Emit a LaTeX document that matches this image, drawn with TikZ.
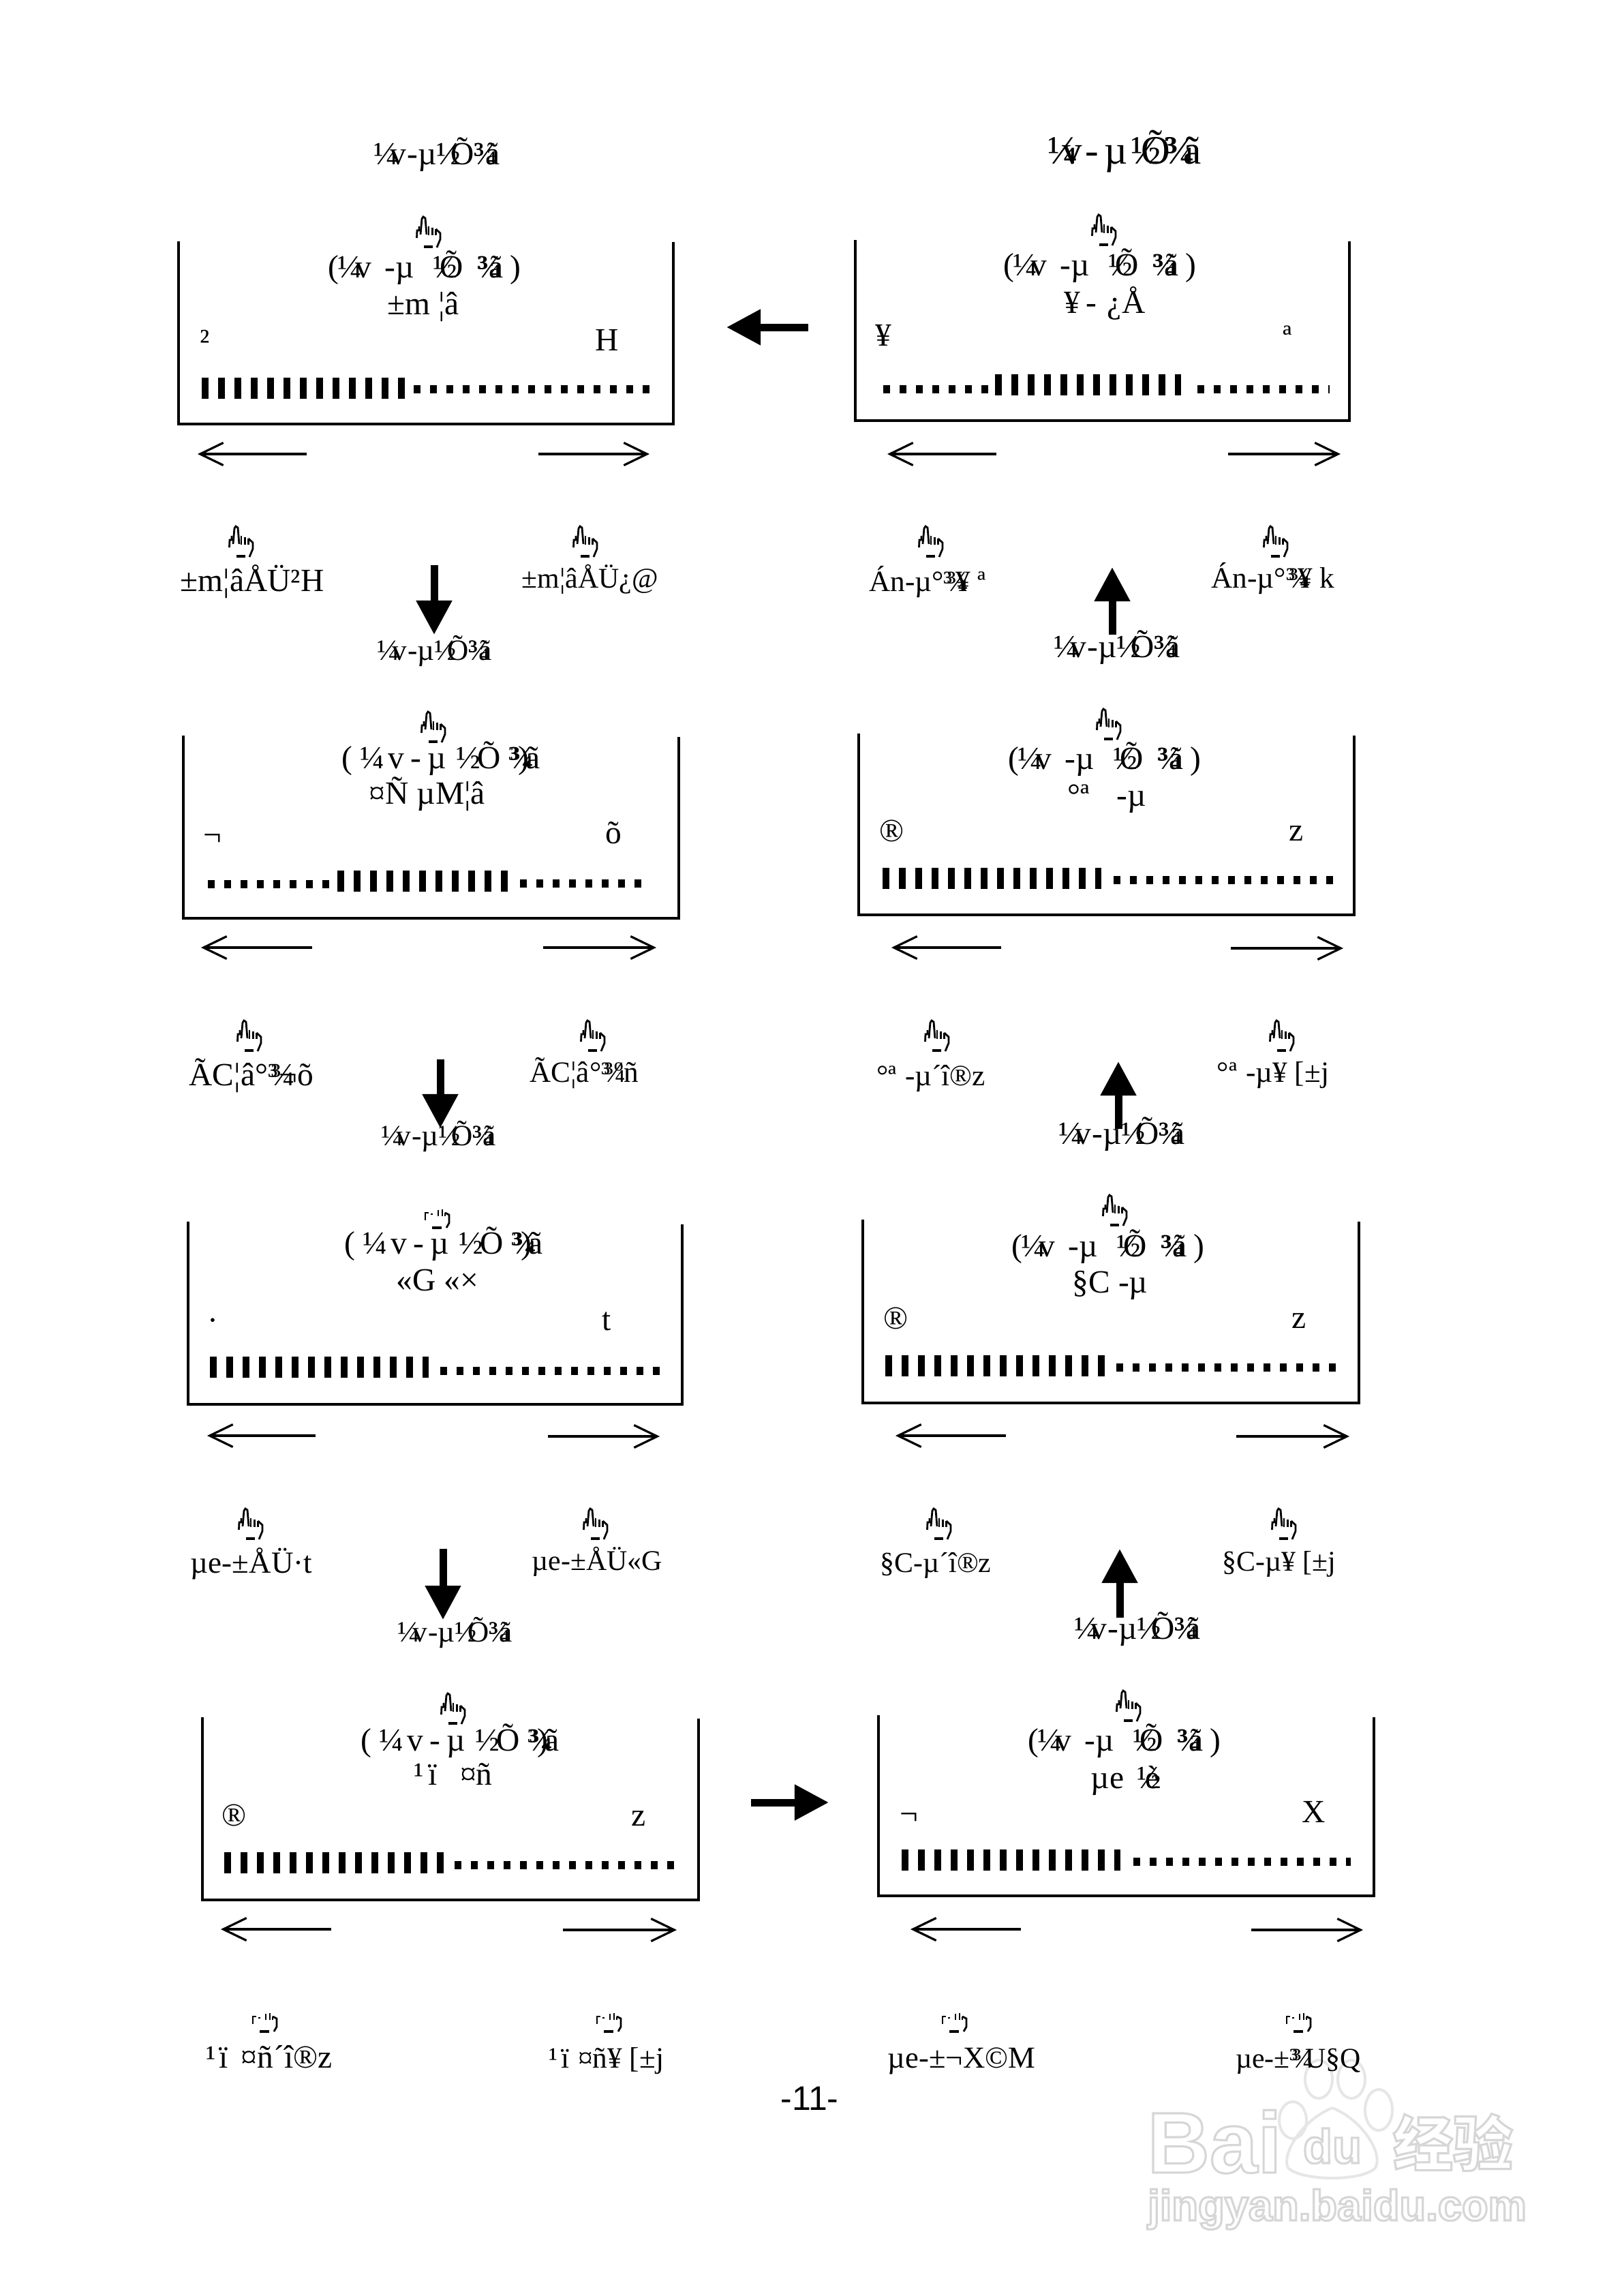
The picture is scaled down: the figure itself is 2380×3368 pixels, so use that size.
\documentclass[tikz,border=0pt]{standalone}
\usepackage{fontspec}
\setmainfont{Liberation Serif}
\newfontfamily\pagesans{Liberation Sans}
\newfontfamily\markcjk{Noto Sans CJK SC}
\usetikzlibrary{arrows.meta}
\definecolor{Wash}{HTML}{E6E6E6}
% the garbled heading, in its four settings
\newcommand{\ttlplain}{¼\kern-.26em v\kern.04em -µ½\kern-.32em Õ³\kern-.3em ¾\kern-.4em ã}
\newcommand{\ttlbig}{¼\kern-.4em v\kern.08em -\kern.15em µ\kern.08em ½\kern-.5em Õ\kern-.14em ³\kern-.28em ¾\kern-.3em ã}
\newcommand{\ttlspread}{(\kern-.05em ¼\kern-.2em v\hspace{.4em}-µ\hspace{.6em}½\kern-.55em Õ\hspace{.45em}³\kern-.3em ¾\kern-.4em ã\hspace{.2em})}
\newcommand{\ttlgap}{( ¼\kern.1em v\kern.2em -\kern.2em µ\kern.3em ½\kern-.1em Õ ³\kern-.25em ¾\kern-.5em )\kern-.1em ã}
% hollow letters for the watermark
\newcommand{\hollow}[1]{\special{pdf:code 1 Tr 0.9 w 0.84 G}#1\special{pdf:code 0 Tr 1 w 0 G}}
\begin{document}
\begin{tikzpicture}[x=0.01cm,y=-0.01cm,
  lab/.style={anchor=base, inner sep=0pt, outer sep=0pt, font=\fontsize{13.5}{16}\selectfont},
  sublab/.style={lab, font=\fontsize{12.3}{15}\selectfont},
  tightlab/.style={lab, font=\fontsize{11.9}{14}\selectfont},
  biglab/.style={lab, font=\fontsize{16.8}{20}\selectfont},
  numlab/.style={anchor=base, inner sep=0pt, font=\pagesans\fontsize{14.2}{17}\selectfont},
  marklab/.style={anchor=base, inner sep=0pt},
  wall/.style={line width=.032cm, line cap=rect},
  tallbar/.style={line width=.31cm, dash pattern=on .095cm off .145cm},
  smallbar/.style={line width=.12cm, dash pattern=on .095cm off .145cm},
  wing/.style={line width=.032cm, -{Straight Barb[length=.34cm,width=.33cm]}},
  blockarr/.style={line width=.11cm, -{Triangle[length=.5cm,width=.5cm]}},
  handup/.pic={
    \draw[line width=.028cm] (1.5,31) -- (2,20) -- (5,20) -- (5,14);
    \draw[line width=.028cm] (7,26) -- (9,3) -- (11,0) -- (14,2) -- (16,26);
    \draw[line width=.028cm] (19,14) -- (19,27) (24.5,16) -- (24.5,27) (29.5,18) -- (29.5,27);
    \draw[line width=.028cm] (29.5,18) -- (36,24) -- (36,33) -- (31,45);
    \draw[line width=.045cm] (12,44) -- (24.5,44);
  },
  handcut/.pic={
    \draw[line width=.028cm] (1,16) -- (1,5) -- (6,5) (10.5,6) -- (10.5,8);
    \draw[line width=.028cm] (20,1) -- (20,10) (26,0) -- (26,10) (30,5) -- (30,10);
    \draw[line width=.028cm] (30,5) -- (36,8) -- (36,20) -- (32,27);
    \draw[line width=.045cm] (11,27) -- (25,27);
  }
]
\useasboundingbox (0,0) rectangle (2380,3368);

% watermark
\node[marklab, font=\pagesans\bfseries\fontsize{36}{40}\selectfont] (mbai) at (1782,3187) {\hollow{Bai}};
\node[marklab, font=\pagesans\bfseries\fontsize{20}{24}\selectfont] (mdu) at (1955,3173) {\hollow{du}};
\node[marklab, font=\markcjk\bfseries\fontsize{25}{30}\selectfont] (mjy) at (2132,3177) {\hollow{经验}};
\node[marklab, font=\pagesans\bfseries\fontsize{18}{22}\selectfont] (murl) at (1962,3257) {\hollow{jingyan.baidu.com}};
\draw[Wash, line width=.04cm] (1897,3110) circle [x radius=20, y radius=27];
\draw[Wash, line width=.04cm] (1935,3050) circle [x radius=20, y radius=28];
\draw[Wash, line width=.04cm] (1983,3050) circle [x radius=20, y radius=28];
\draw[Wash, line width=.04cm] (2023,3095) circle [x radius=20, y radius=30];
\draw[Wash, line width=.04cm] (1955,3092) .. controls (1910,3110) and (1880,3160) .. (1890,3180) .. controls (1910,3200) and (2000,3200) .. (2018,3180) .. controls (2030,3160) and (2000,3110) .. (1955,3092);

% top left
\node[lab] (t1) at (641,241) {\ttlplain};
\pic at (610,318) {handup};
\node[lab] (t1a) at (623,407) {\ttlspread};
\node[lab] (t1b) at (621,461) {±m ¦â};
\node[lab] (t1c) at (301,515) {²};
\node[lab] (t1d) at (891,514) {H};
\draw[wall] (262,356) -- (262,622) -- (988,622) -- (988,357);
\draw[tallbar] (296,569) -- (594,569);
\draw[smallbar] (607,571) -- (954,571);
\coordinate (l1a) at (450,666); \coordinate (l1b) at (290,666);
\coordinate (r1a) at (790,666); \coordinate (r1b) at (953,666);
\draw[wing] (l1a) -- (l1b);
\draw[wing] (r1a) -- (r1b);

% top right
\node[biglab] (t2) at (1650,240) {\ttlbig};
\pic at (1601,315) {handup};
\node[lab] (t2a) at (1614,404) {\ttlspread};
\node[lab] (t2b) at (1621,459) {¥\,-\,\,¿Å};
\node[lab] (t2c) at (1296,507) {¥};
\node[lab] (t2d) at (1889,509) {ª};
\draw[wall] (1255,354) -- (1255,617) -- (1980,617) -- (1980,356);
\draw[smallbar] (1296,571) -- (1452,571);
\draw[tallbar] (1460,564) -- (1733,564);
\draw[smallbar] (1757,571) -- (1951,571);
\coordinate (l2a) at (1462,666); \coordinate (l2b) at (1302,666);
\coordinate (r2a) at (1802,666); \coordinate (r2b) at (1967,666);
\draw[wing] (l2a) -- (l2b);
\draw[wing] (r2a) -- (r2b);

\coordinate (ba) at (1186,480); \coordinate (bb) at (1066,480);
\draw[blockarr] (ba) -- (bb);

% second row left
\pic at (335,772) {handup};
\node[lab] (u3a) at (370,867) {±m¦âÅÜ²H};
\pic at (840,772) {handup};
\node[tightlab] (u3b) at (866,862) {±m¦âÅÜ¿@};
\coordinate (d1a) at (637,829); \coordinate (d1b) at (637,931);
\draw[blockarr] (d1a) -- (d1b);
\node[sublab] (t3) at (638,968) {\ttlplain};
\pic at (617,1044) {handup};
\node[lab] (t3a) at (647,1127) {\ttlgap};
\node[lab] (t3b) at (627,1179) {¤Ñ µM¦â};
\node[lab] (t3c) at (312,1240) {¬};
\node[lab] (t3d) at (900,1237) {õ};
\draw[wall] (269,1081) -- (269,1347) -- (996,1347) -- (996,1083);
\draw[smallbar] (305,1297) -- (485,1297);
\draw[tallbar] (495,1292) -- (745,1292);
\draw[smallbar] (763,1296) -- (943,1296);
\coordinate (l3a) at (458,1390); \coordinate (l3b) at (295,1390);
\coordinate (r3a) at (797,1390); \coordinate (r3b) at (963,1390);
\draw[wing] (l3a) -- (l3b);
\draw[wing] (r3a) -- (r3b);

% second row right
\pic at (1347,772) {handup};
\node[sublab] (u4a) at (1361,867) {Án-µ°³\kern-.2em ¾\kern-.45em ¥ ª};
\pic at (1853,772) {handup};
\node[sublab] (u4b) at (1868,862) {Án-µ°³\kern-.2em ¾\kern-.45em ¥ k};
\coordinate (u1a) at (1632,931); \coordinate (u1b) at (1632,832);
\draw[blockarr] (u1a) -- (u1b);
\node[lab] (t4) at (1639,964) {\ttlplain};
\pic at (1608,1040) {handup};
\node[lab] (t4a) at (1621,1128) {\ttlspread};
\node[lab] (t4b) at (1624,1182) {°ª\hspace{.85em}-µ};
\node[lab] (t4c) at (1309,1234) {®};
\node[lab] (t4d) at (1902,1233) {z};
\draw[wall] (1260,1078) -- (1260,1342) -- (1987,1342) -- (1987,1081);
\draw[tallbar] (1295,1288) -- (1616,1288);
\draw[smallbar] (1634,1291) -- (1956,1291);
\coordinate (l4a) at (1469,1390); \coordinate (l4b) at (1308,1390);
\coordinate (r4a) at (1806,1391); \coordinate (r4b) at (1971,1391);
\draw[wing] (l4a) -- (l4b);
\draw[wing] (r4a) -- (r4b);

% third row left
\pic at (347,1497) {handup};
\node[lab] (u5a) at (369,1592) {ÃC¦â°³\kern-.2em ¾\kern-.5em ¬õ};
\pic at (851,1497) {handup};
\node[sublab] (u5b) at (857,1587) {ÃC¦â°³\kern-.2em ¾\kern-.4em ºñ};
\coordinate (d2a) at (646,1554); \coordinate (d2b) at (646,1655);
\draw[blockarr] (d2a) -- (d2b);
\node[sublab] (t5) at (644,1680) {\ttlplain};
\pic at (623,1774) {handcut};
\node[lab] (t5a) at (651,1839) {\ttlgap};
\node[lab] (t5b) at (642,1893) {«G «×};
\node[lab] (t5c) at (312,1952) {·};
\node[lab] (t5d) at (890,1951) {t};
\draw[wall] (276,1794) -- (276,2060) -- (1001,2060) -- (1001,1798);
\draw[tallbar] (308,2005) -- (629,2005);
\draw[smallbar] (646,2011) -- (970,2011);
\coordinate (l5a) at (463,2106); \coordinate (l5b) at (304,2106);
\coordinate (r5a) at (804,2107); \coordinate (r5b) at (968,2107);
\draw[wing] (l5a) -- (l5b);
\draw[wing] (r5a) -- (r5b);

% third row right
\pic at (1356,1497) {handup};
\node[sublab] (u6a) at (1366,1592) {°ª\hspace{.3em}-µ´î®z};
\pic at (1862,1497) {handup};
\node[sublab] (u6b) at (1868,1587) {°ª\hspace{.3em}-µ¥ [±j};
\coordinate (u2a) at (1641,1656); \coordinate (u2b) at (1641,1557);
\draw[blockarr] (u2a) -- (u2b);
\node[lab] (t6) at (1646,1678) {\ttlplain};
\pic at (1617,1753) {handup};
\node[lab] (t6a) at (1626,1843) {\ttlspread};
\node[lab] (t6b) at (1629,1896) {§C -µ};
\node[lab] (t6c) at (1315,1949) {®};
\node[lab] (t6d) at (1906,1948) {z};
\draw[wall] (1266,1791) -- (1266,2058) -- (1994,2058) -- (1994,1794);
\draw[tallbar] (1299,2003) -- (1621,2003);
\draw[smallbar] (1638,2006) -- (1961,2006);
\coordinate (l6a) at (1476,2106); \coordinate (l6b) at (1314,2106);
\coordinate (r6a) at (1814,2107); \coordinate (r6b) at (1980,2107);
\draw[wing] (l6a) -- (l6b);
\draw[wing] (r6a) -- (r6b);

% fourth row left
\pic at (349,2213) {handup};
\node[lab, font=\fontsize{12.8}{15}\selectfont] (u7a) at (369,2307) {µe-±ÅÜ·t};
\pic at (855,2213) {handup};
\node[tightlab] (u7b) at (876,2303) {µe-±ÅÜ«G};
\coordinate (d3a) at (650,2272); \coordinate (d3b) at (650,2376);
\draw[blockarr] (d3a) -- (d3b);
\node[sublab] (t7) at (668,2408) {\ttlplain};
\pic at (646,2484) {handup};
\node[lab] (t7a) at (675,2568) {\ttlgap};
\node[lab] (t7b) at (665,2618) {¹\kern.15em ï\hspace{.7em}¤ñ};
\node[lab] (t7c) at (344,2678) {®};
\node[lab] (t7d) at (937,2678) {z};
\draw[wall] (297,2521) -- (297,2787) -- (1025,2787) -- (1025,2523);
\draw[tallbar] (329,2732) -- (651,2732);
\draw[smallbar] (667,2736) -- (991,2736);
\coordinate (l7a) at (486,2830); \coordinate (l7b) at (324,2830);
\coordinate (r7a) at (826,2831); \coordinate (r7b) at (993,2831);
\draw[wing] (l7a) -- (l7b);
\draw[wing] (r7a) -- (r7b);

% fourth row right
\pic at (1359,2213) {handup};
\node[tightlab] (u8a) at (1373,2306) {§C-µ´î®z};
\pic at (1865,2213) {handup};
\node[tightlab] (u8b) at (1877,2304) {§C-µ¥ [±j};
\coordinate (u3a) at (1643,2373); \coordinate (u3b) at (1643,2272);
\draw[blockarr] (u3a) -- (u3b);
\node[lab] (t8) at (1669,2404) {\ttlplain};
\pic at (1637,2480) {handup};
\node[lab] (t8a) at (1650,2568) {\ttlspread};
\node[lab] (t8b) at (1651,2623) {µe\hspace{.4em}½\kern-.5em è};
\node[lab] (t8c) at (1334,2676) {¬};
\node[lab] (t8d) at (1928,2673) {X};
\draw[wall] (1289,2518) -- (1289,2781) -- (2016,2781) -- (2016,2521);
\draw[tallbar] (1323,2728) -- (1644,2728);
\draw[smallbar] (1663,2731) -- (1982,2731);
\coordinate (l8a) at (1498,2830); \coordinate (l8b) at (1336,2830);
\coordinate (r8a) at (1836,2831); \coordinate (r8b) at (2000,2831);
\draw[wing] (l8a) -- (l8b);
\draw[wing] (r8a) -- (r8b);

\coordinate (ca) at (1102,2644); \coordinate (cb) at (1216,2644);
\draw[blockarr] (ca) -- (cb);

% bottom row
\pic at (370,2953) {handcut};
\pic at (875,2953) {handcut};
\pic at (1382,2953) {handcut};
\pic at (1887,2953) {handcut};
\node[lab] (b1) at (395,3033) {¹\kern.1em ï\hspace{.4em}¤ñ´î®z};
\node[sublab] (b2) at (890,3033) {¹\kern.1em ï\hspace{.3em}¤ñ¥ [±j};
\node[lab, font=\fontsize{12.7}{15}\selectfont] (b3) at (1411,3033) {µe-±¬X©M};
\node[tightlab] (b4) at (1905,3033) {µe-±³\kern-.2em ¾\kern-.3em U§Q};
\node[numlab] (pg) at (1188,3095) {-11-};
\end{tikzpicture}
\end{document}
